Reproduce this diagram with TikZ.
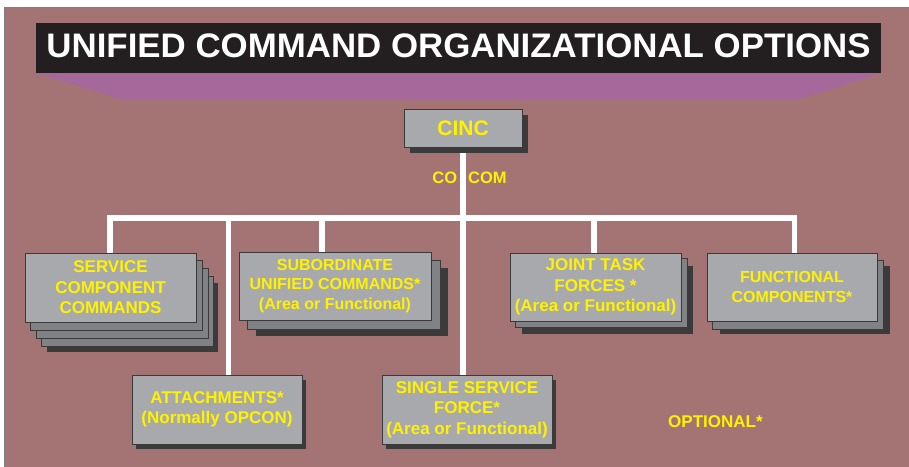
\documentclass[tikz,border=0pt]{standalone}
\usepackage{fontspec}
\setmainfont{Liberation Sans}
\definecolor{mauve}{RGB}{164,116,116}
\definecolor{purp}{RGB}{166,104,154}
\definecolor{titlebk}{RGB}{35,31,32}
\definecolor{boxfront}{RGB}{168,169,173}
\definecolor{boxmid}{RGB}{128,130,133}
\definecolor{boxshadow}{RGB}{59,59,59}
\definecolor{boxedge}{RGB}{58,58,58}
\definecolor{ylw}{RGB}{255,242,0}
\pgfdeclarelayer{bg}
\pgfdeclarelayer{wires}
\pgfdeclarelayer{stack}
\pgfsetlayers{bg,wires,stack,main}
\newcommand\stk[4]{\path[#4] ([shift={(#2,#3)}]#1.north west) rectangle ([shift={(#2,#3)}]#1.south east);}
\begin{document}
\begin{tikzpicture}[x=1pt,y=-1pt,
  box/.style={draw=boxedge,line width=0.8pt,fill=boxfront,text=ylw,
    font=\bfseries\fontsize{17}{20.5}\selectfont,align=center,inner sep=0pt},
  smallbox/.style={box,font=\bfseries\fontsize{16}{19.5}\selectfont},
  midlayer/.style={draw=boxedge,line width=0.8pt,fill=boxmid},
  shadowlayer/.style={fill=boxshadow},
  wire/.style={draw=white,line width=5.5pt,line join=miter},
  lbl/.style={text=ylw,font=\bfseries\fontsize{17}{20.5}\selectfont,inner sep=0pt}]
\path[use as bounding box] (0,0) rectangle (909,466);
\begin{pgfonlayer}{bg}
\fill[white] (0,0) rectangle (909,466);
\filldraw[fill=mauve,draw=gray,line width=0.8pt] (4,7) rectangle (915,472);
\end{pgfonlayer}
% title
\node[fill=titlebk,minimum width=845,minimum height=50,inner sep=0pt] (titlebar) at (458.5,48) {};
\begin{pgfonlayer}{bg}
\fill[purp] (titlebar.south west) -- (titlebar.south east) -- (797,100) -- (123,100) -- cycle;
\end{pgfonlayer}
\node[anchor=base,text=white,inner sep=0pt,font=\bfseries\fontsize{34}{40}\selectfont] (title) at (458.5,57) {\scalebox{1.025}[1]{UNIFIED COMMAND ORGANIZATIONAL OPTIONS}};
% boxes
\node[box,minimum width=118,minimum height=38,font=\bfseries\fontsize{21}{24}\selectfont] (cinc) at (463,128) {CINC};
\node[box,minimum width=171,minimum height=69] (svc) at (110.5,287.5) {SERVICE\\COMPONENT\\COMMANDS};
\node[smallbox,minimum width=192,minimum height=68] (sub) at (335,286) {SUBORDINATE\\UNIFIED COMMANDS*\\(Area or Functional)};
\node[box,minimum width=171,minimum height=68] (jtf) at (595.5,287) {JOINT TASK\\FORCES *\\(Area or Functional)};
\node[smallbox,minimum width=170,minimum height=68] (fc) at (792,287) {FUNCTIONAL\\COMPONENTS*};
\node[box,minimum width=170,minimum height=69] (att) at (217,409.5) {ATTACHMENTS*\\(Normally OPCON)};
\node[box,minimum width=170,minimum height=69] (ssf) at (467,409.5) {SINGLE SERVICE\\FORCE*\\(Area or Functional)};
% labels
\node[lbl,anchor=base,font=\bfseries\fontsize{16.5}{20}\selectfont] (cocom) at (469.5,183) {CO\hspace{11pt}COM};
\node[lbl,anchor=base west] (opt) at (668,427) {OPTIONAL*};
% stacked layers and shadows
\begin{pgfonlayer}{stack}
\stk{cinc}{6}{6}{shadowlayer}
\stk{svc}{22}{30}{shadowlayer}
\stk{svc}{17}{24}{midlayer}
\stk{svc}{12}{16}{midlayer}
\stk{svc}{6}{8}{midlayer}
\stk{sub}{17}{16}{shadowlayer}
\stk{sub}{9}{9}{midlayer}
\stk{jtf}{12}{13}{shadowlayer}
\stk{jtf}{6}{6}{midlayer}
\stk{fc}{13}{13}{shadowlayer}
\stk{fc}{6}{8}{midlayer}
\stk{att}{4}{5}{shadowlayer}
\stk{ssf}{4}{5}{shadowlayer}
\end{pgfonlayer}
% connectors
\begin{pgfonlayer}{wires}
\coordinate (b1) at (110,218);
\coordinate (b2) at (228.5,218);
\coordinate (b3) at (322,218);
\coordinate (b4) at (594,218);
\coordinate (b5) at (794.5,218);
\draw[wire] (cinc.south) -- (cinc.south |- ssf.north);
\draw[wire] (b1 |- svc.north) -- (b1) -- (b5) -- (b5 |- fc.north);
\draw[wire] (b2) -- (b2 |- att.north);
\draw[wire] (b3) -- (b3 |- sub.north);
\draw[wire] (b4) -- (b4 |- jtf.north);
\end{pgfonlayer}
\end{tikzpicture}
\end{document}
